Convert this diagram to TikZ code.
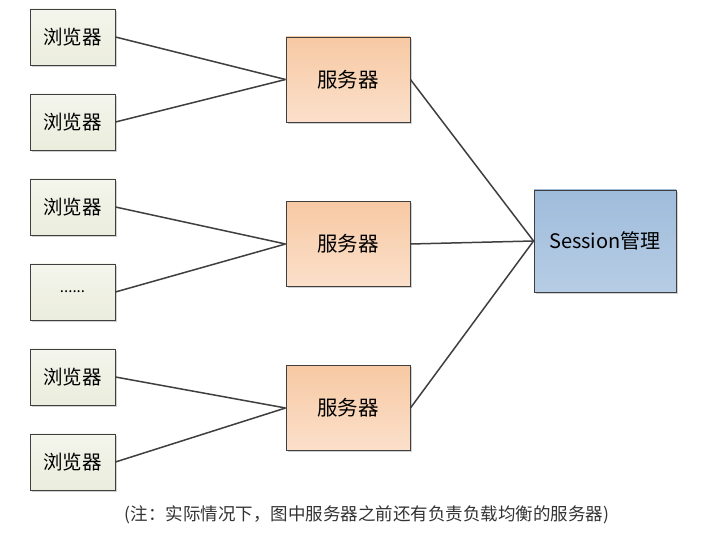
\documentclass[tikz,border=0pt]{standalone}
\usepackage{fontspec}
\setmainfont{Noto Sans CJK SC}
\usetikzlibrary{shadows}
\definecolor{brfill}{HTML}{EBEDDD}
\definecolor{brfill2}{HTML}{F4F5EC}
\definecolor{svfill}{HTML}{F7C9A3}
\definecolor{svfill2}{HTML}{FBE0CB}
\definecolor{ssfill}{HTML}{9FBCDB}
\definecolor{ssfill2}{HTML}{B7CDE5}
\definecolor{edge}{HTML}{3F3F3F}
\tikzset{
  box/.style={draw=edge, line width=0.9pt, inner sep=0pt, anchor=center,
    drop shadow={shadow xshift=2pt, shadow yshift=-2pt, opacity=0.18, fill=black}},
  browser/.style={box, minimum width=85pt, minimum height=56pt,
    top color=brfill2, bottom color=brfill, font=\fontsize{19.5}{22}\selectfont},
  server/.style={box, minimum width=124pt, minimum height=85pt,
    top color=svfill, bottom color=svfill2, font=\fontsize{20.5}{23}\selectfont},
  sess/.style={box, minimum width=142pt, minimum height=102pt,
    top color=ssfill, bottom color=ssfill2, font=\fontsize{20}{23}\selectfont},
  link/.style={draw=edge, line width=1.5pt}
}
\begin{document}
\begin{tikzpicture}[x=1pt,y=-1pt]
\useasboundingbox[fill=white] (0,0) rectangle (724,537);
\node[browser] (b1) at (72.5,37) {浏览器};
\node[browser] (b2) at (72.5,122) {浏览器};
\node[browser] (b3) at (72.5,207) {浏览器};
\node[browser] (b4) at (72.5,292) {\fontsize{15}{18}\selectfont ......};
\node[browser] (b5) at (72.5,377) {浏览器};
\node[browser] (b6) at (72.5,462) {浏览器};
\node[server] (s1) at (348,79.5) {服务器};
\node[server] (s2) at (348,244) {服务器};
\node[server] (s3) at (348,408) {服务器};
\node[sess] (m) at (605,241) {Session管理};
\draw[link] (b1.east) -- (s1.west);
\draw[link] (b2.east) -- (s1.west);
\draw[link] (b3.east) -- (s2.west);
\draw[link] (b4.east) -- (s2.west);
\draw[link] (b5.east) -- (s3.west);
\draw[link] (b6.east) -- (s3.west);
\draw[link] (s1.east) -- (m.west);
\draw[link] (s2.east) -- (m.west);
\draw[link] (s3.east) -- (m.west);
\node[font=\fontsize{17.5}{20}\selectfont, text=black!80] (cap) at (367,515) {(注：实际情况下，图中服务器之前还有负责负载均衡的服务器)};
\end{tikzpicture}
\end{document}
